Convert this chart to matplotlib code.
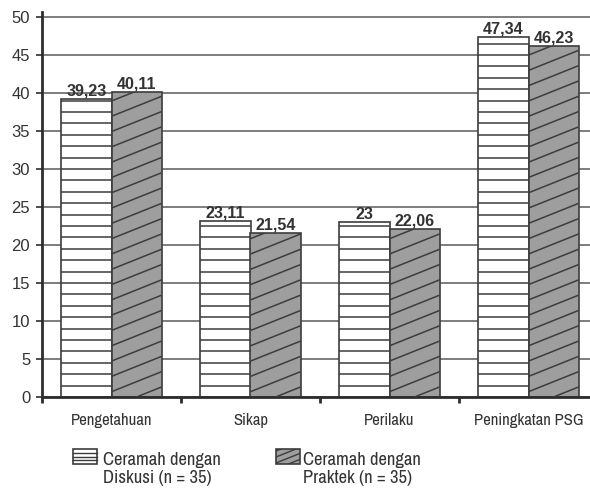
import matplotlib
matplotlib.use("Agg")
import matplotlib.pyplot as plt
import numpy as np
from matplotlib.collections import LineCollection
from matplotlib.patches import Rectangle
from matplotlib.transforms import IdentityTransform, Affine2D

# ---- data ----
categories = ["Pengetahuan", "Sikap", "Perilaku", "Peningkatan PSG"]
diskusi = [39.23, 23.11, 23.00, 47.34]
praktek = [40.11, 21.54, 22.06, 46.23]
series_names = ["Ceramah dengan\nDiskusi (n = 35)", "Ceramah dengan\nPraktek (n = 35)"]
yticks = [0, 5, 10, 15, 20, 25, 30, 35, 40, 45, 50]

# ---- style ----
W, H, DPI = 590, 488, 100
FONT = ["Liberation Sans", "DejaVu Sans"]
NARROW = ["Archivo Narrow", "Liberation Sans", "DejaVu Sans"]
TEXT = "#333333"
EDGE = "#3c3c3c"
GRID = "#5a5a5a"
GRAY = "#9e9e9e"
AXIS = "#2e2e2e"


def fmt(v):
    s = f"{v:.2f}".replace(".", ",")
    return s[:-3] if s.endswith(",00") else s


fig = plt.figure(figsize=(W / DPI, H / DPI), dpi=DPI)
ax = fig.add_axes([42 / W, 91 / H, 556 / W, 385 / H])

x = np.arange(len(categories))
width = 0.36
ax.set_xlim(-0.5, len(categories) - 0.5)
ax.set_ylim(0, 50.66)

bars_d = ax.bar(x - width / 2, diskusi, width, color="white",
                edgecolor=EDGE, linewidth=1.2, zorder=2)
bars_p = ax.bar(x + width / 2, praktek, width, color=GRAY,
                edgecolor=EDGE, linewidth=1.2, zorder=2)

# horizontal stripes inside the white bars
for bar in bars_d:
    x0 = bar.get_x()
    ys = np.arange(1.5, bar.get_height() - 0.2, 1.5)
    ax.hlines(ys, x0, x0 + bar.get_width(), color=EDGE, lw=1.1, zorder=3)


def slanted_lines(patch, spacing, slope, phase, lw=1.1):
    """Shallow diagonal stripes over a rectangle patch (pixel units)."""
    bb = patch.get_window_extent()
    x0, y0, x1, y1 = bb.x0, bb.y0, bb.x1, bb.y1
    w = x1 - x0
    kmin = -int(np.ceil(slope * w / spacing)) - 1
    kmax = int(np.ceil((y1 - y0) / spacing)) + 1
    segs = []
    for k in range(kmin, kmax + 1):
        s = y0 + phase + k * spacing
        segs.append([(x0, s), (x1, s + slope * w)])
    return LineCollection(segs, colors=EDGE, linewidths=lw,
                          transform=IdentityTransform(), zorder=3)


for bar in bars_p:
    lc = slanted_lines(bar, 15.3, 0.4, 5.3)
    ax.add_collection(lc, autolim=False)
    lc.set_clip_path(bar)

# value labels
for bars, vals in ((bars_d, diskusi), (bars_p, praktek)):
    for bar, v in zip(bars, vals):
        ax.annotate(fmt(v), (bar.get_x() + bar.get_width() / 2, v),
                    xytext=(0, 2.5), textcoords="offset points",
                    ha="center", va="baseline", fontsize=11.6,
                    fontweight="bold", family=FONT, color=TEXT)

# axes, grid, ticks
ax.set_axisbelow(True)
ax.yaxis.grid(True, color=GRID, lw=1.1)
for side in ("top", "right"):
    ax.spines[side].set_visible(False)
for side in ("left", "bottom"):
    ax.spines[side].set_color(AXIS)
    ax.spines[side].set_linewidth(2)

ax.set_yticks(yticks)
ax.set_yticklabels([str(t) for t in yticks], family=FONT, fontsize=12,
                   color=TEXT)
ax.tick_params(axis="y", direction="out", length=4.5, width=1.2,
               color=AXIS, pad=4)

ax.set_xticks(np.arange(-0.5, len(categories)), labels=[])
ax.set_xticks(x, minor=True)
ax.set_xticklabels(categories, minor=True, family=NARROW, fontsize=12,
                   color=TEXT)
ax.tick_params(axis="x", which="major", direction="out", length=4,
               width=2, color=AXIS)
ax.tick_params(axis="x", which="minor", length=0, pad=11.5)

# legend drawn in pixel coordinates (origin top-left)
px = Affine2D().scale(1, -1).translate(0, H)
swatch_x = [73, 276]
text_x = [103, 303]
for i, name in enumerate(series_names):
    sw = Rectangle((swatch_x[i], 449), 24, 15,
                   facecolor="white" if i == 0 else GRAY,
                   edgecolor=EDGE, lw=1.2, transform=px)
    fig.add_artist(sw)
    if i == 0:
        for frac in (0.25, 0.5, 0.75):
            yy = 449 + 15 * frac
            fig.add_artist(plt.Line2D([swatch_x[i], swatch_x[i] + 24], [yy, yy],
                                      color=EDGE, lw=1.0, transform=px))
    else:
        lc = slanted_lines(sw, 6.0, 0.4, 1.0, lw=1.0)
        fig.add_artist(lc)
        lc.set_clip_path(sw)
    fig.text(text_x[i], 451.5, name, transform=px, ha="left", va="top",
             fontsize=13.4, family=NARROW, color=TEXT, linespacing=1.22)

fig.savefig("out.png", dpi=DPI, facecolor="white")
